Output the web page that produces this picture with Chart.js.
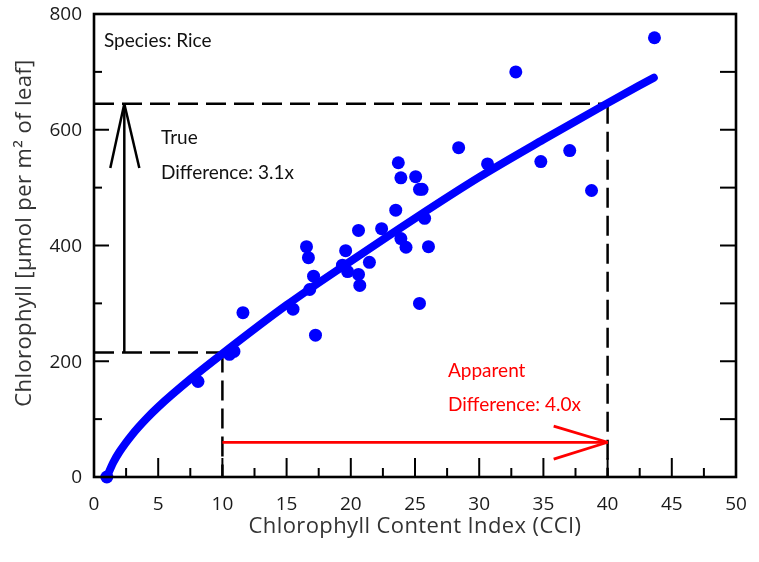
<!DOCTYPE html>
<html><head><meta charset="utf-8">
<script src="https://cdn.jsdelivr.net/npm/chart.js@4/dist/chart.umd.min.js"></script>
<style>html,body{margin:0;padding:0;background:#fff;}#wrap{width:759px;height:562px;position:relative;}</style>
</head><body><div id="wrap"><canvas id="c"></canvas></div>
<script>
// Measured points (CCI vs chlorophyll)
const cciValues = [1.0, 8.1, 10.55, 10.9, 11.6, 15.5, 16.55, 16.7, 16.8, 17.1, 17.25, 19.6, 19.35, 19.75, 20.6, 20.6, 20.7, 21.45, 22.4, 23.5, 23.7, 23.9, 23.9, 24.3, 25.05, 25.35, 25.55, 25.75, 26.05, 25.35, 28.4, 30.65, 32.85, 34.8, 37.05, 38.75, 43.65];
const chlValues = [0, 165, 212, 217, 284, 290, 398, 379, 324, 347, 245, 391, 366, 355, 426, 350, 331, 371, 429, 461, 543, 517, 412, 397, 519, 497, 497, 447, 398, 300, 569, 541, 700, 545, 564, 495, 759];
// Fitted calibration curve
const fitCci = [1, 1.5, 2, 3, 4, 5, 7.5, 10, 15, 20, 25, 30, 35, 40, 43.6];
const fitChl = [0, 25, 44, 74, 99, 121, 169, 213, 297, 373, 447, 518, 583, 646, 690];
// Axes
const xTickValues = [0, 5, 10, 15, 20, 25, 30, 35, 40, 45, 50];
const yTickValues = [0, 200, 400, 600, 800];
const xMinorStep = 2.5;
const yMinorStep = 100;
// Annotation values
const trueLow = 215, trueHigh = 645;
const apparentLow = 10, apparentHigh = 40;
const trueArrowX = 2.36;
const trueHeadX = [1.27, 3.53], trueHeadY = 534;
const apparentArrowY = 60;
const apparentHeadX = 35.8, apparentHeadY = [88, 31];
const xTitle = 'Chlorophyll Content Index (CCI)';
const yTitle = 'Chlorophyll [μmol per m² of leaf]';
const speciesLabel = 'Species: Rice';
const trueLabel = ['True', 'Difference: 3.1x'];
const apparentLabel = ['Apparent', 'Difference: 4.0x'];

const points = cciValues.map((v, i) => ({x: v, y: chlValues[i]}));
const fitLine = fitCci.map((v, i) => ({x: v, y: fitChl[i]}));

function seg(ctx, x1, y1, x2, y2) { ctx.beginPath(); ctx.moveTo(x1, y1); ctx.lineTo(x2, y2); ctx.stroke(); }

const overlay = {
  id: 'overlay',
  beforeDatasetsDraw(chart) {
    const {ctx, scales: {x, y}} = chart;
    const X = v => x.getPixelForValue(v), Y = v => y.getPixelForValue(v);
    ctx.save();
    ctx.strokeStyle = '#000'; ctx.lineWidth = 2.5; ctx.lineCap = 'butt';
    ctx.setLineDash([20, 8]);
    seg(ctx, X(0), Y(trueHigh), X(apparentHigh), Y(trueHigh));
    seg(ctx, X(apparentHigh), Y(trueHigh), X(apparentHigh), Y(0));
    seg(ctx, X(0), Y(trueLow), X(apparentLow), Y(trueLow));
    seg(ctx, X(apparentLow), Y(trueLow), X(apparentLow), Y(0));
    ctx.setLineDash([]);
    // black arrow
    ctx.lineWidth = 2.5;
    seg(ctx, X(trueArrowX), Y(trueLow), X(trueArrowX), Y(trueHigh));
    seg(ctx, X(trueArrowX), Y(trueHigh), X(trueHeadX[0]), Y(trueHeadY));
    seg(ctx, X(trueArrowX), Y(trueHigh), X(trueHeadX[1]), Y(trueHeadY));
    // red arrow
    ctx.strokeStyle = '#ff0000'; ctx.lineWidth = 2.8;
    seg(ctx, X(apparentLow), Y(apparentArrowY), X(apparentHigh), Y(apparentArrowY));
    seg(ctx, X(apparentHigh), Y(apparentArrowY), X(apparentHeadX), Y(apparentHeadY[0]));
    seg(ctx, X(apparentHigh), Y(apparentArrowY), X(apparentHeadX), Y(apparentHeadY[1]));
    ctx.restore();
  },
  afterDraw(chart) {
    const {ctx, chartArea: a, scales: {x, y}} = chart;
    const X = v => x.getPixelForValue(v), Y = v => y.getPixelForValue(v);
    ctx.save();
    ctx.strokeStyle = '#000'; ctx.lineWidth = 2;
    // ticks left / right
    for (let v = y.min + yMinorStep; v < y.max; v += yMinorStep) {
      const major = yTickValues.includes(v);
      seg(ctx, a.left, Y(v), a.left + (major ? 15 : 8), Y(v));
      seg(ctx, a.right, Y(v), a.right - 16, Y(v));
    }
    for (let v = x.min + xMinorStep; v < x.max; v += xMinorStep) {
      const major = xTickValues.includes(v);
      seg(ctx, X(v), a.bottom, X(v), a.bottom - (major ? 19 : 9));
    }
    // frame
    ctx.lineWidth = 2.6;
    ctx.strokeRect(a.left, a.top, a.right - a.left, a.bottom - a.top);
    // tick labels
    ctx.fillStyle = '#1a1a1a'; ctx.font = '19px "Open Sans"';
    ctx.textAlign = 'right'; ctx.textBaseline = 'middle';
    yTickValues.forEach(v => ctx.fillText(String(v), a.left - 12, Y(v) + 1));
    ctx.textAlign = 'center';
    xTickValues.forEach(v => ctx.fillText(String(v), X(v), 505));
    // axis titles
    ctx.fillStyle = '#333'; ctx.font = '22px "Open Sans"';
    ctx.letterSpacing = '0.4px';
    ctx.fillText(xTitle, (a.left + a.right) / 2, 527);
    ctx.save();
    ctx.translate(25, 233); ctx.rotate(-Math.PI / 2);
    ctx.fillText(yTitle, 0, 0);
    ctx.restore();
    ctx.letterSpacing = '0px';
    // annotations
    ctx.textAlign = 'left'; ctx.fillStyle = '#111'; ctx.font = '19px Lato';
    ctx.fillText(speciesLabel, 104, 41);
    ctx.fillText(trueLabel[0], 161, 138);
    ctx.fillText(trueLabel[1], 161, 173);
    ctx.fillStyle = '#ff0000';
    ctx.fillText(apparentLabel[0], 448, 371);
    ctx.fillText(apparentLabel[1], 448, 405);
    ctx.restore();
  }
};

new Chart(document.getElementById('c'), {
  type: 'scatter',
  data: {
    datasets: [
      {type: 'line', data: fitLine, borderColor: '#0000ff', borderWidth: 8, pointRadius: 0,
       cubicInterpolationMode: 'monotone', borderCapStyle: 'round', borderJoinStyle: 'round',
       fill: false, clip: false, order: 2},
      {data: points, backgroundColor: '#0000ff', borderColor: '#0000ff', borderWidth: 0,
       pointRadius: 6.5, clip: false, order: 1}
    ]
  },
  options: {
    responsive: true, maintainAspectRatio: false, animation: false, events: [],
    layout: {padding: {left: 94, right: 23, top: 14, bottom: 85}},
    plugins: {legend: {display: false}, tooltip: {enabled: false}},
    scales: {
      x: {type: 'linear', min: 0, max: 50, display: false},
      y: {type: 'linear', min: 0, max: 800, display: false}
    }
  },
  plugins: [overlay]
});
</script></body></html>
